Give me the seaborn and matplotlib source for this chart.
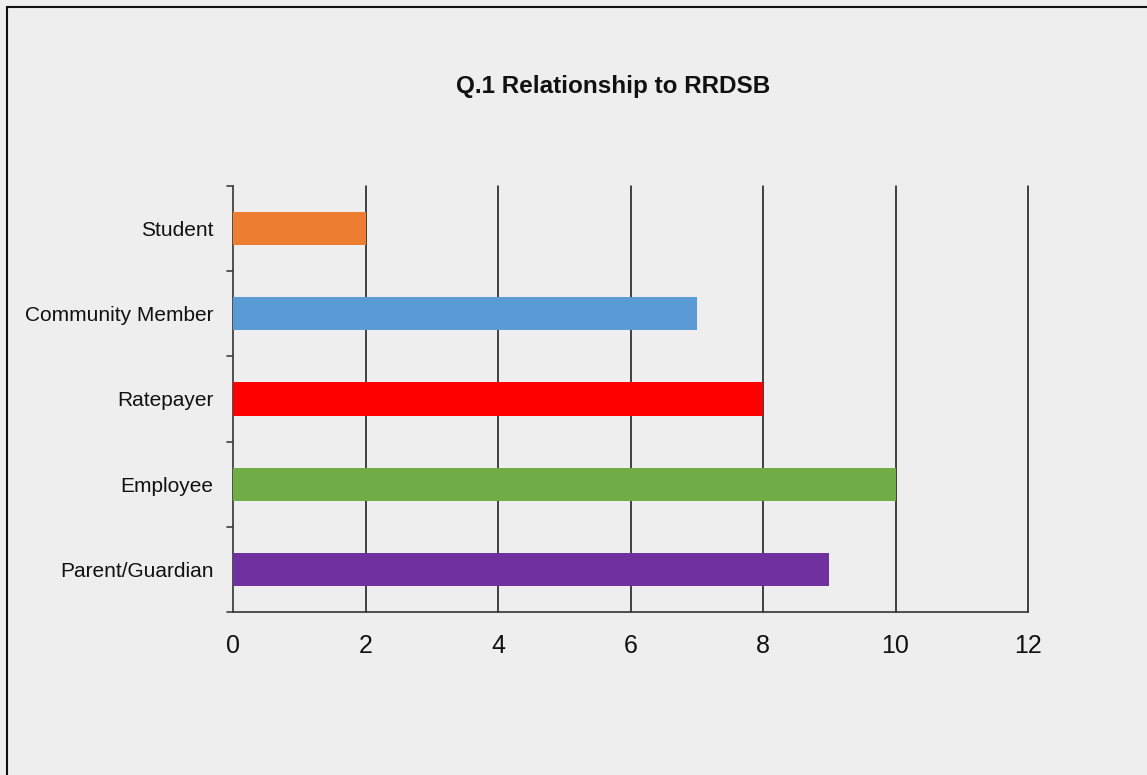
import pandas as pd
import matplotlib.pyplot as plt
import seaborn as sns
from matplotlib.patches import Rectangle

# data
categories = ['Student', 'Community Member', 'Ratepayer', 'Employee', 'Parent/Guardian']
counts = [2, 7, 8, 10, 9]
colors = ['#ED7D31', '#5B9BD5', '#FF0000', '#70AD47', '#7030A0']
x_ticks = [0, 2, 4, 6, 8, 10, 12]

BG = '#eeeeee'

sns.set_theme(style='white')
plt.rcParams['font.family'] = ['Liberation Sans', 'DejaVu Sans']

df = pd.DataFrame({'category': categories, 'count': counts})

fig = plt.figure(figsize=(11.47, 7.75), dpi=100, facecolor=BG)
ax = fig.add_axes([233 / 1147, 1 - 612 / 775, 795 / 1147, 426 / 775])
ax.set_facecolor(BG)

sns.barplot(data=df, x='count', y='category', hue='category', palette=colors,
            order=categories, legend=False, width=0.39, saturation=1,
            orient='h', ax=ax, zorder=3, linewidth=0, edgecolor='none')

ax.set_xlim(0, 12)
ax.set_ylim(len(categories) - 0.5, -0.5)
ax.set_xticks(x_ticks)
ax.set_xticklabels([str(t) for t in x_ticks], fontsize=18)

# category labels in the middle, tick marks on the boundaries
ax.set_yticks(range(len(categories)))
ax.set_yticklabels(categories, fontsize=15)
ax.tick_params(axis='y', length=0, pad=14)
for b in [i - 0.5 for i in range(len(categories) + 1)]:
    ax.plot([-0.09, 0], [b, b], color='#404040', lw=1.2, clip_on=False, zorder=4)
ax.tick_params(axis='x', direction='out', length=8, width=1.2, color='#222222', pad=8)

for t in x_ticks[1:]:
    ax.axvline(t, color='#111111', lw=1.1, zorder=1, clip_on=False)

for side in ['top', 'right']:
    ax.spines[side].set_visible(False)
for side in ['left', 'bottom']:
    ax.spines[side].set_color('#333333')
    ax.spines[side].set_linewidth(1.2)

ax.set_xlabel('')
ax.set_ylabel('')
for lbl in ax.get_yticklabels() + ax.get_xticklabels():
    lbl.set_color('#111111')

fig.text(613 / 1147, 1 - 87 / 775, 'Q.1 Relationship to RRDSB', ha='center', va='center',
         fontsize=17.5, fontweight='bold', color='#111111')

# outer border (left and top visible)
fig.patches.append(Rectangle((7 / 1147, -0.05), 1.2, 1 - 7 / 775 + 0.05,
                             transform=fig.transFigure, fill=False,
                             edgecolor='#111111', lw=1.5))

fig.savefig('out.png', dpi=100, facecolor=BG)
